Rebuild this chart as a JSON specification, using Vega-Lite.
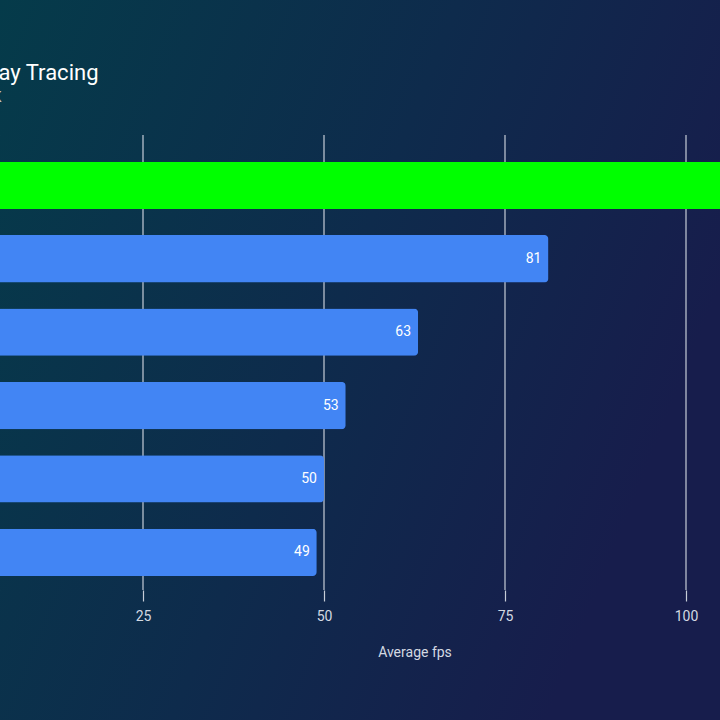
{
  "$schema": "https://vega.github.io/schema/vega-lite/v6.json",
  "width": 905,
  "height": 455,
  "autosize": {"type": "none"},
  "padding": {"top": 135, "left": -38, "right": -147, "bottom": 130},
  "background": "#0d2c4a",
  "title": {
    "text": "Ray Tracing",
    "subtitle": "4K",
    "anchor": "start",
    "frame": "group",
    "dx": 23,
    "offset": -106,
    "font": "Roboto",
    "fontSize": 22,
    "fontWeight": "normal",
    "color": "#ffffff",
    "subtitleFont": "Roboto",
    "subtitleFontSize": 14,
    "subtitleColor": "#c3cad4",
    "subtitlePadding": 6
  },
  "datasets": {
    "gpus": [
      {"gpu": "RTX 4090", "fps": 112, "tier": "flagship"},
      {"gpu": "RTX 4080", "fps": 81, "tier": "other"},
      {"gpu": "RX 7900 XTX", "fps": 63, "tier": "other"},
      {"gpu": "RTX 3090 Ti", "fps": 53, "tier": "other"},
      {"gpu": "RX 7900 XT", "fps": 50, "tier": "other"},
      {"gpu": "RTX 3080", "fps": 49, "tier": "other"}
    ],
    "gridValues": [{"fps": 25}, {"fps": 50}, {"fps": 75}, {"fps": 100}]
  },
  "resolve": {"scale": {"y": "independent"}, "axis": {"y": "independent"}},
  "layer": [
    {
      "data": {"values": [{"part": "backdrop"}]},
      "mark": {
        "type": "rect",
        "fill": {
          "gradient": "linear",
          "x1": 0, "y1": 0, "x2": 1, "y2": 0.4,
          "stops": [
            {"offset": 0, "color": "#053b4a"},
            {"offset": 0.55, "color": "#0e2b4c"},
            {"offset": 1, "color": "#171d4c"}
          ]
        }
      },
      "encoding": {
        "x": {"datum": 5.25, "type": "quantitative", "scale": {"domain": [0, 125], "nice": false}},
        "x2": {"datum": 104.7},
        "y": {"datum": 0, "type": "quantitative", "scale": {"domain": [0.18056, 0.8125], "nice": false, "zero": false}, "axis": null},
        "y2": {"datum": 1}
      }
    },
    {
      "layer": [
        {
          "data": {"name": "gridValues"},
          "mark": {"type": "rule", "color": "#c6cdd8", "strokeWidth": 1.2},
          "encoding": {
            "x": {"field": "fps", "type": "quantitative", "scale": {"domain": [0, 125], "nice": false}}
          }
        },
        {
          "data": {"name": "gpus"},
          "mark": {"type": "bar", "cornerRadiusEnd": 4},
          "encoding": {
            "y": {
              "field": "gpu", "type": "nominal", "sort": null,
              "scale": {"paddingInner": 0.356, "paddingOuter": 0.2775, "align": 0.656},
              "axis": null
            },
            "x": {
              "field": "fps", "type": "quantitative",
              "scale": {"domain": [0, 125], "nice": false},
              "axis": {
                "title": "Average fps",
                "values": [25, 50, 75, 100],
                "zindex": 1,
                "grid": false,
                "domain": false,
                "ticks": true,
                "tickColor": "#c6cdd8",
                "tickWidth": 1.2,
                "tickSize": 11,
                "labelFont": "Roboto",
                "labelFontSize": 14,
                "labelColor": "#d3d9e2",
                "labelPadding": 8,
                "titleFont": "Roboto",
                "titleFontSize": 14,
                "titleFontWeight": "normal",
                "titleColor": "#d3d9e2",
                "titlePadding": 22
              }
            },
            "color": {
              "field": "tier", "type": "nominal",
              "scale": {"domain": ["flagship", "other"], "range": ["#00ff00", "#4285f4"]},
              "legend": null
            }
          }
        },
        {
          "data": {"name": "gpus"},
          "mark": {"type": "text", "align": "right", "baseline": "middle", "dx": -7, "font": "Roboto", "fontSize": 14, "color": "#ffffff"},
          "encoding": {
            "y": {"field": "gpu", "type": "nominal", "sort": null},
            "x": {"field": "fps", "type": "quantitative"},
            "text": {"field": "fps", "type": "quantitative"}
          }
        }
      ]
    }
  ]
}
